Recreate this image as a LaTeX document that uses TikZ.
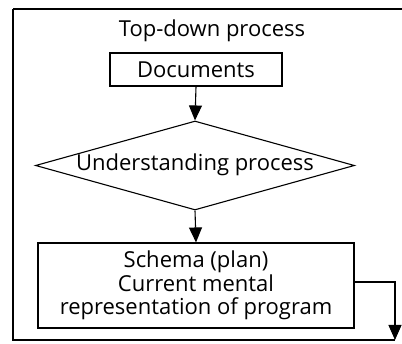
\documentclass[tikz,border=0pt]{standalone}
\usepackage{fontspec}
\setmainfont{Open Sans}
\usetikzlibrary{shapes.geometric,arrows.meta}
\tikzset{txt/.style={font=\fontsize{22}{23.5}\selectfont}}
\begin{document}
\begin{tikzpicture}[x=1pt,y=-1pt,line width=1.1pt,
  box/.style={draw,rectangle,inner sep=0pt,txt,align=center},
  dia/.style={draw,diamond,inner sep=0pt},
  arr/.style={-{Triangle[width=13pt,length=15pt]}}]
\useasboundingbox (0,0) rectangle (402,344);
\draw (13,9) -- (402,9);
\draw (13,9) -- (13,340) -- (395,340);
\node[txt] (title) at (212,31) {Top-down process};
\node[box,minimum width=172pt,minimum height=33pt] (doc) at (196,69.5) {Documents};
\node[dia,minimum width=319pt,minimum height=89pt] (und) at (195,165.5) {};
\node[txt] (undt) at (195,164.5) {Understanding process};
\node[box,minimum width=316pt,minimum height=85pt] (sch) at (196,285.5) {Schema (plan)\\Current mental\\representation of program};
\draw[arr] (doc.south) -- (und.north);
\draw[arr] (und.south) -- (sch.north);
\coordinate (c1) at (395,282);
\coordinate (c2) at (395,340);
\draw[arr] (sch.east |- c1) -- (c1) -- (c2);
\end{tikzpicture}
\end{document}
